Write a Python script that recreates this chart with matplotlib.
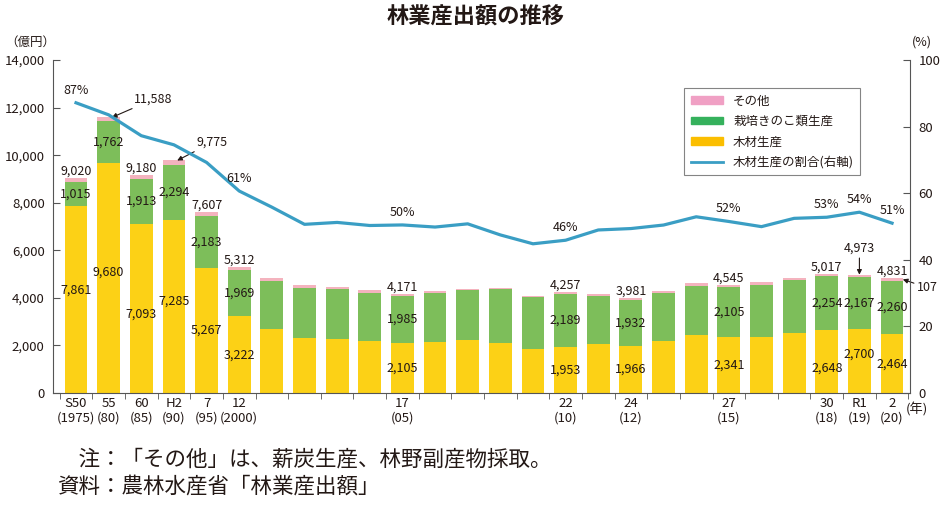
import matplotlib.pyplot as plt
import numpy as np
from matplotlib.patches import Patch
from matplotlib.lines import Line2D

plt.rcParams['font.family'] = ['Noto Sans CJK JP', 'DejaVu Sans']

# データ（億円）: 1975, 80, 85, 90, 95, 2000 以降は毎年
wood = [7861, 9680, 7093, 7285, 5267, 3222, 2695, 2303, 2283, 2170, 2105,
        2144, 2228, 2102, 1833, 1953, 2044, 1966, 2170, 2439, 2341, 2338,
        2536, 2648, 2700, 2464]
mushroom = [1015, 1762, 1913, 2294, 2183, 1969, 2033, 2131, 2074, 2034, 1985,
            2060, 2086, 2255, 2204, 2189, 2047, 1932, 2034, 2073, 2105, 2216,
            2199, 2254, 2167, 2260]
other = [144, 146, 174, 196, 157, 121, 101, 113, 100, 110, 81,
         98, 72, 71, 54, 115, 84, 83, 98, 97, 99, 126,
         100, 115, 106, 107]

tick_idx = [0, 1, 2, 3, 4, 5, 10, 15, 17, 20, 23, 24, 25]
tick_labels = ['S50\n(1975)', '55\n(80)', '60\n(85)', 'H2\n(90)', '7\n(95)',
               '12\n(2000)', '17\n(05)', '22\n(10)', '24\n(12)', '27\n(15)',
               '30\n(18)', 'R1\n(19)', '2\n(20)']
label_idx = [0, 1, 2, 3, 4, 5, 10, 15, 17, 20, 23, 24, 25]
pct_idx = [0, 5, 10, 15, 20, 23, 24, 25]

wood = np.array(wood)
mushroom = np.array(mushroom)
other = np.array(other)
total = wood + mushroom + other
share = wood / total * 100
x = np.arange(len(wood))

c_wood = '#FCD116'
c_mush = '#7DBE5A'
c_other = '#F4B3BE'
c_line = '#3A9EC4'
c_text = '#231815'
fs = 9

fig = plt.figure(figsize=(9.42, 5.05), dpi=100)
ax = fig.add_axes([53 / 942, 1 - 393 / 505, 857 / 942, 333 / 505])

ax.bar(x, wood, width=0.7, color=c_wood, zorder=2)
ax.bar(x, mushroom, width=0.7, bottom=wood, color=c_mush, zorder=2)
ax.bar(x, other, width=0.7, bottom=wood + mushroom, color=c_other, zorder=2)

ax.set_xlim(-0.705, 25.55)
ax.set_ylim(0, 14000)
ax.set_yticks(range(0, 14001, 2000))
ax.set_yticklabels([f'{v:,}' for v in range(0, 14001, 2000)], fontsize=9.5, color=c_text)
ax.tick_params(axis='y', direction='in', length=5, color='#555555', pad=6)
ax.set_xticks(tick_idx)
ax.set_xticklabels(tick_labels, fontsize=9.5, color=c_text, linespacing=1.1)
ax.tick_params(axis='x', length=0, pad=3)
ax.set_xticks(np.arange(-0.5, 25.6, 1), minor=True)
ax.tick_params(axis='x', which='minor', direction='out', length=4, color='#555555')
for s in ['top', 'right']:
    ax.spines[s].set_visible(False)
for s in ['left', 'bottom']:
    ax.spines[s].set_color('#555555')

ax2 = ax.twinx()
ax2.plot(x, share, color=c_line, lw=2.3, zorder=3)
ax2.set_ylim(0, 100)
ax2.set_yticks(range(0, 101, 20))
ax2.tick_params(axis='y', direction='in', length=5, color='#555555', labelsize=9.5,
                labelcolor=c_text, pad=6)
for s in ['top', 'left', 'bottom']:
    ax2.spines[s].set_visible(False)
ax2.spines['right'].set_color('#555555')

# 数値ラベル
shift_wood = {0: 7, 1: 4, 2: -4, 3: 4, 23: -5, 24: 5}
for i in label_idx:
    if i not in (1, 3, 24):
        ax.annotate(f'{total[i]:,}', (x[i], total[i]), xytext=(0, 5),
                    textcoords='offset points', ha='center', va='center',
                    fontsize=fs, color=c_text, zorder=5)
    ax.annotate(f'{mushroom[i]:,}', (x[i], wood[i] + mushroom[i] / 2),
                ha='center', va='center', fontsize=fs, color=c_text, zorder=5)
    ax.annotate(f'{wood[i]:,}', (x[i], wood[i] / 2),
                xytext=(0, shift_wood.get(i, 0)), textcoords='offset points',
                ha='center', va='center', fontsize=fs, color=c_text, zorder=5)

arrow = dict(arrowstyle='-|>', color=c_text, lw=0.8, mutation_scale=7, shrinkA=0, shrinkB=0)
ax.annotate(f'{total[1]:,}', (x[1] + 0.1, total[1]), xytext=(16, 13),
            textcoords='offset points', ha='left', va='center', fontsize=fs,
            color=c_text, arrowprops=arrow, zorder=5)
ax.annotate(f'{total[3]:,}', (x[3] + 0.1, total[3]), xytext=(14, 13),
            textcoords='offset points', ha='left', va='center', fontsize=fs,
            color=c_text, arrowprops=arrow, zorder=5)
ax.annotate(f'{total[24]:,}', (x[24], total[24]), xytext=(0, 19),
            textcoords='offset points', ha='center', va='center', fontsize=fs,
            color=c_text, zorder=5)
ax.annotate('', (x[24], total[24]), xytext=(0, 12), textcoords='offset points',
            arrowprops=arrow, zorder=5)
ax.annotate(f'{other[25]}', (x[25] + 0.33, total[25] - other[25] / 2),
            xytext=(10, -6), textcoords='offset points', ha='left', va='center',
            fontsize=fs, color=c_text, arrowprops=arrow, annotation_clip=False, zorder=5)

for i in pct_idx:
    ax2.annotate(f'{share[i]:.0f}%', (x[i], share[i]), xytext=(0, 9),
                 textcoords='offset points', ha='center', va='center',
                 fontsize=fs, color=c_text, zorder=5)

fig.text(5 / 942, 1 - 42 / 505, '（億円）', fontsize=9, color=c_text, va='center', ha='left')
fig.text(912 / 942, 1 - 42 / 505, '(%)', fontsize=9, color=c_text, va='center', ha='left')
fig.text(906 / 942, 1 - 410 / 505, '(年)', fontsize=9.5, color=c_text, va='center', ha='left')

fig.text(476 / 942, 1 - 17 / 505, '林業産出額の推移', fontsize=16, fontweight='bold',
         color=c_text, ha='center', va='center')

handles = [Patch(color='#F0A0C4'), Patch(color='#35B15C'), Patch(color='#FBBE00'),
           Line2D([], [], color=c_line, lw=2)]
names = ['その他', '栽培きのこ類生産', '木材生産', '木材生産の割合(右軸)']
leg = fig.legend(handles, names, loc='upper left', bbox_to_anchor=(678 / 942, 1 - 82 / 505),
                 fontsize=9, frameon=True, fancybox=False, handlelength=2.6,
                 handleheight=0.55, labelspacing=0.6, borderpad=0.5, handletextpad=0.8)
leg.get_frame().set_edgecolor('#666666')
leg.get_frame().set_linewidth(0.8)
for t in leg.get_texts():
    t.set_color(c_text)

fig.text(57 / 942, 1 - 460 / 505, '\u3000注：「その他」は、薪炭生産、林野副産物採取。',
         fontsize=15.5, color=c_text, ha='left', va='center')
fig.text(57 / 942, 1 - 487 / 505, '資料：農林水産省「林業産出額」',
         fontsize=15.5, color=c_text, ha='left', va='center')

fig.savefig('out.png', dpi=100)
